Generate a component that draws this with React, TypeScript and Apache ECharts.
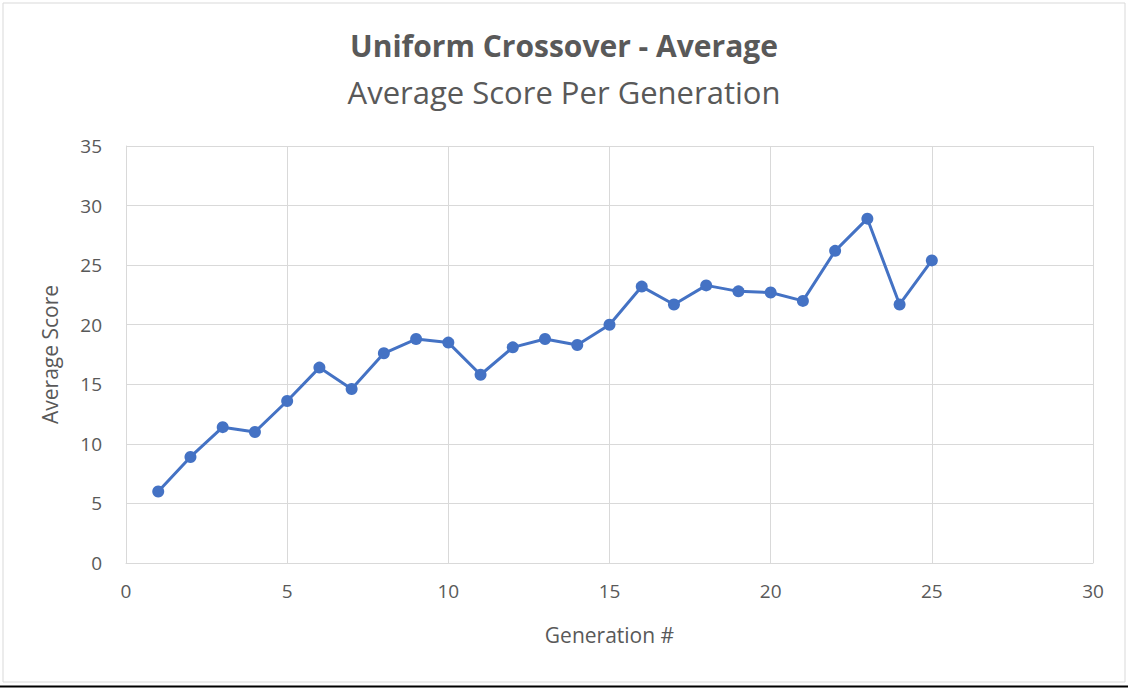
import React, { useEffect, useRef } from "react";
import * as echarts from "echarts";

const generations = [1, 2, 3, 4, 5, 6, 7, 8, 9, 10, 11, 12, 13, 14, 15, 16, 17, 18, 19, 20, 21, 22, 23, 24, 25];
const averageScores = [6.0, 8.9, 11.4, 11.0, 13.6, 16.4, 14.6, 17.6, 18.8, 18.5, 15.8, 18.1, 18.8, 18.3, 20.0, 23.2, 21.7, 23.3, 22.8, 22.7, 22.0, 26.2, 28.9, 21.7, 25.4];

const titleText = "Uniform Crossover - Average";
const subtitleText = "Average Score Per Generation";
const xAxisName = "Generation #";
const yAxisName = "Average Score";

export default function App() {
  const ref = useRef<HTMLDivElement>(null);
  useEffect(() => {
    if (!ref.current) return;
    const chart = echarts.init(ref.current, null, { renderer: "svg" });
    const font = "'Open Sans', Lato, sans-serif";
    chart.setOption({
      animation: false,
      backgroundColor: "#ffffff",
      textStyle: { fontFamily: font },
      title: {
        text: titleText,
        subtext: subtitleText,
        left: "center",
        top: 25,
        itemGap: 16,
        textStyle: { fontFamily: font, fontSize: 30, fontWeight: "bold", color: "#595959" },
        subtextStyle: { fontFamily: font, fontSize: 31, color: "#595959" },
      },
      graphic: [
        {
          type: "rect",
          shape: { x: 3, y: 3, width: 1122, height: 679 },
          style: { fill: "none", stroke: "#d9d9d9", lineWidth: 1 },
          silent: true,
        },
        {
          type: "line",
          shape: { x1: 0, y1: 686.5, x2: 1128, y2: 686.5 },
          style: { stroke: "#000000", lineWidth: 2 },
          silent: true,
        },
      ],
      grid: { left: 126, right: 35, top: 146, bottom: 125 },
      xAxis: {
        type: "value",
        min: 0,
        max: 30,
        interval: 5,
        name: xAxisName,
        nameLocation: "middle",
        nameGap: 61,
        nameTextStyle: { fontSize: 21, color: "#595959", fontFamily: font },
        axisLine: { show: true, lineStyle: { color: "#d9d9d9", width: 1 } },
        axisTick: { show: false },
        axisLabel: { fontSize: 19, color: "#595959", margin: 18, fontFamily: font },
        splitLine: { show: true, lineStyle: { color: "#d9d9d9", width: 1 } },
      },
      yAxis: {
        type: "value",
        min: 0,
        max: 35,
        interval: 5,
        name: yAxisName,
        nameLocation: "middle",
        nameGap: 66,
        nameRotate: 90,
        nameTextStyle: { fontSize: 21, color: "#595959", fontFamily: font },
        axisLine: { show: true, lineStyle: { color: "#d9d9d9", width: 1 } },
        axisTick: { show: false },
        axisLabel: { fontSize: 19, color: "#595959", margin: 24, fontFamily: font },
        splitLine: { show: true, lineStyle: { color: "#d9d9d9", width: 1 } },
      },
      series: [
        {
          type: "line",
          data: generations.map((g, i) => [g, averageScores[i]]),
          symbol: "circle",
          symbolSize: 12,
          lineStyle: { color: "#4472C4", width: 3 },
          itemStyle: { color: "#4472C4" },
        },
      ],
    });
    return () => chart.dispose();
  }, []);
  return (
    <div
      ref={ref}
      style={{ position: "absolute", left: 0, top: 0, width: 1128, height: 688 }}
    />
  );
}
